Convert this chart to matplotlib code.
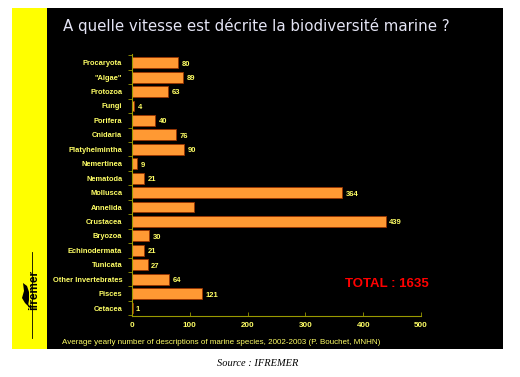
import matplotlib.pyplot as plt
from matplotlib.patches import Rectangle, Polygon

categories = ["Procaryota", '"Algae"', "Protozoa", "Fungi", "Porifera", "Cnidaria",
              "Platyhelmintha", "Nemertinea", "Nematoda", "Mollusca", "Annelida",
              "Crustacea", "Bryozoa", "Echinodermata", "Tunicata",
              "Other Invertebrates", "Pisces", "Cetacea"]
values = [80, 89, 63, 4, 40, 76, 90, 9, 21, 364, 108, 439, 30, 21, 27, 64, 121, 1]
labels = ["80", "89", "63", "4", "40", "76", "90", "9", "21", "364", "", "439",
          "30", "21", "27", "64", "121", "1"]
xticks = [0, 100, 200, 300, 400, 500]

W, H = 520, 377
fig = plt.figure(figsize=(W / 100, H / 100), dpi=100)
fig.patch.set_facecolor("white")
plt.rcParams["font.family"] = ["Liberation Sans", "DejaVu Sans"]

# background panels (pixel coords -> figure fraction)
def fx(x): return x / W
def fy(y): return 1 - y / H

fig.patches.append(Rectangle((fx(12), fy(349)), fx(47) - fx(12), fy(8) - fy(349),
                             transform=fig.transFigure, facecolor="#ffff00", edgecolor="none", zorder=-10))
fig.patches.append(Rectangle((fx(47), fy(349)), fx(503) - fx(47), fy(8) - fy(349),
                             transform=fig.transFigure, facecolor="black", edgecolor="none", zorder=-10))

fig.text(fx(63), fy(26), "A quelle vitesse est décrite la biodiversité marine ?",
         color="#e4e4f4", fontsize=10.8, va="center", ha="left",
         family=["DejaVu Sans"])

# ifremer logo
fig.text(fx(34.5), fy(290), "ifremer", rotation=90, color="black", fontsize=8.5,
         fontweight="bold", ha="center", va="center")
fig.lines.append(plt.Line2D([fx(32), fx(32)], [fy(252), fy(338)], transform=fig.transFigure,
                            color="black", lw=0.6))
fish = [(23, 283), (27, 286), (29, 292), (29, 300), (28, 306), (25, 303), (22, 298), (24, 291)]
fig.patches.append(Polygon([(fx(a), fy(b)) for a, b in fish], closed=True,
                           transform=fig.transFigure, facecolor="black", edgecolor="none"))

ax = fig.add_axes([fx(132), fy(316), fx(421) - fx(132), fy(54) - fy(316)])
ax.set_facecolor("black")
y = list(range(len(categories)))
ax.barh(y, values, height=0.75, color="#ff9933", edgecolor="#993300", linewidth=0.6)
for yi, v, lab in zip(y, values, labels):
    if lab:
        ax.text(v + 6, yi + 0.1, lab, color="#ffff66", fontsize=5.5, fontweight="bold",
                va="center", ha="left")
ax.set_ylim(len(categories) - 0.45, -0.6)
ax.set_xlim(0, 500)
ax.set_yticks(y)
ax.set_yticklabels(categories, color="#ffff66", fontsize=5.4, fontweight="bold")
ax.set_yticks([i - 0.5 for i in y] + [len(y) - 0.5], minor=True)
ax.set_xticks(xticks)
ax.set_xticklabels([str(t) for t in xticks], color="#ffff66", fontsize=5.8, fontweight="bold")
for s in ["top", "right"]:
    ax.spines[s].set_visible(False)
for s in ["left", "bottom"]:
    ax.spines[s].set_color("#999900")
    ax.spines[s].set_linewidth(0.8)
ax.tick_params(axis="y", which="major", length=0, pad=7, labelcolor="#ffff66")
ax.tick_params(axis="y", which="minor", colors="#999900", length=3, width=0.6)
ax.tick_params(axis="x", colors="#999900", direction="in", length=3, width=0.6, pad=4,
               labelcolor="#ffff66")

fig.text(fx(62), fy(342), "Average yearly number of descriptions of marine species, 2002-2003 (P. Bouchet, MNHN)",
         color="#ffff66", fontsize=5.8, va="center", ha="left")
fig.text(fx(345), fy(284), "TOTAL : 1635", color="#ff0000", fontsize=9.5,
         fontweight="bold", va="center", ha="left")
fig.text(fx(258), fy(363), "Source : IFREMER", color="black", fontsize=7.5,
         style="italic", family=["Liberation Serif"], ha="center", va="center")

fig.savefig("out.png", dpi=100, facecolor="white")
